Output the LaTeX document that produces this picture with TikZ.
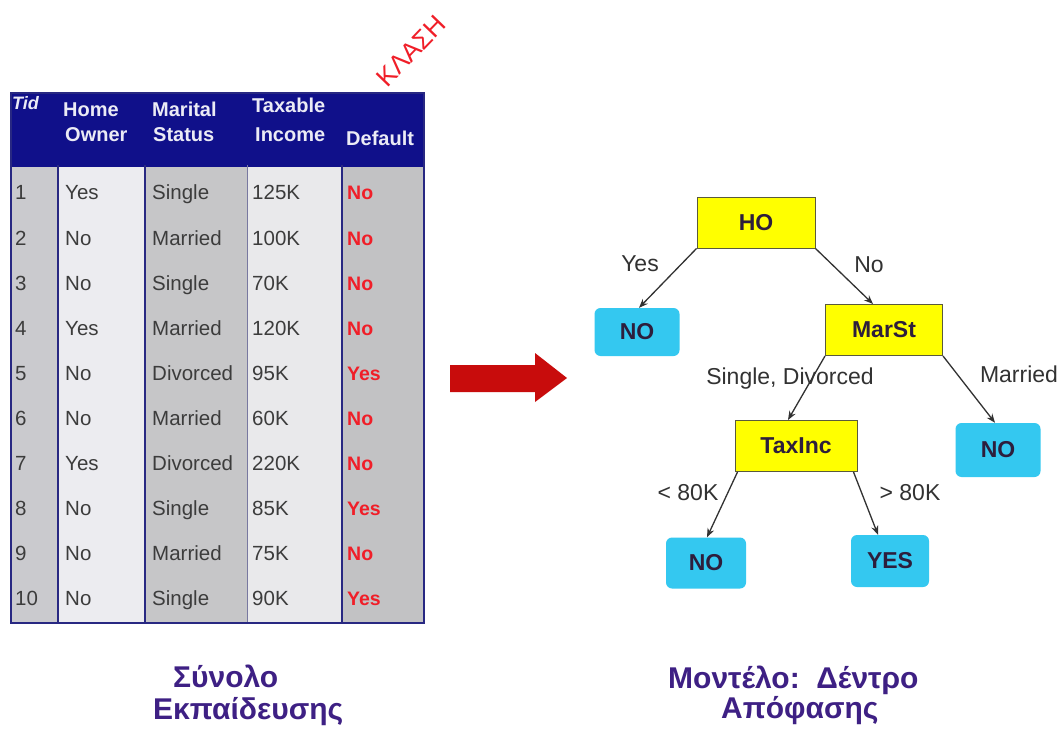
\documentclass[tikz,border=0pt]{standalone}
\usepackage{fontspec}
\setmainfont{Liberation Sans}
\usetikzlibrary{arrows.meta}
\definecolor{hdrblue}{RGB}{16,16,138}
\definecolor{colTid}{RGB}{202,202,206}
\definecolor{colHome}{RGB}{236,236,240}
\definecolor{colMar}{RGB}{198,198,200}
\definecolor{colTax}{RGB}{233,233,235}
\definecolor{colDef}{RGB}{194,194,196}
\definecolor{cellgray}{RGB}{60,60,60}
\definecolor{clsred}{RGB}{240,30,40}
\definecolor{navyline}{RGB}{40,40,130}
\definecolor{thinline}{RGB}{120,120,160}
\definecolor{hdrtext}{RGB}{235,235,245}
\definecolor{decyellow}{RGB}{255,255,0}
\definecolor{decline}{RGB}{90,90,60}
\definecolor{leafcyan}{RGB}{52,200,240}
\definecolor{nodetext}{RGB}{45,30,60}
\definecolor{labgray}{RGB}{50,50,50}
\definecolor{capurple}{RGB}{62,32,132}
\definecolor{arrowred}{RGB}{200,12,12}
\begin{document}
\begin{tikzpicture}[x=1pt,y=-1pt,
  cell/.style={anchor=base west,font=\fontsize{20.5}{23}\selectfont,text=cellgray,inner sep=0pt},
  cls/.style={anchor=base west,font=\bfseries\fontsize{19.5}{22}\selectfont,text=clsred,inner sep=0pt},
  hdr/.style={anchor=base west,font=\bfseries\fontsize{20}{23}\selectfont,text=hdrtext,inner sep=0pt},
  dec/.style={draw=decline,line width=1pt,fill=decyellow,font=\bfseries\fontsize{23}{26}\selectfont,text=nodetext,inner sep=0pt},
  leaf/.style={fill=leafcyan,rounded corners=6pt,font=\bfseries\fontsize{23}{26}\selectfont,text=nodetext,inner sep=0pt},
  edge/.style={draw=labgray,line width=1.3pt,-{Stealth[length=9pt,width=7pt]}},
  elabel/.style={font=\fontsize{23}{26}\selectfont,text=labgray,inner sep=0pt},
  capt/.style={font=\bfseries\fontsize{30}{33}\selectfont,text=capurple,inner sep=0pt,anchor=base west}
]
\useasboundingbox (0,0) rectangle (1064,735);
\fill[white] (0,0) rectangle (1064,735);

% ---- table columns ----
\fill[colTid]  (11,165) rectangle (58,623);
\fill[colHome] (58,165) rectangle (145,623);
\fill[colMar]  (145,165) rectangle (247,623);
\fill[colTax]  (247,165) rectangle (342,623);
\fill[colDef]  (342,165) rectangle (424,623);
\fill[hdrblue] (10,93) rectangle (424,167);
\draw[navyline,line width=2pt] (58,165) -- (58,623);
\draw[navyline,line width=2pt] (145,165) -- (145,623);
\draw[thinline,line width=1pt] (247,165) -- (247,623);
\draw[navyline,line width=2pt] (342,165) -- (342,623);
\draw[navyline,line width=1.6pt] (11,93) rectangle (424,623);

% ---- header ----
\node[hdr,font=\bfseries\itshape\fontsize{18}{21}\selectfont] (hTid) at (12,110) {Tid};
\node[hdr] (hHome) at (63,117) {Home};
\node[hdr] (hOwner) at (65,142) {Owner};
\node[hdr] (hMar) at (152,117) {Marital};
\node[hdr] (hStat) at (153,142) {Status};
\node[hdr] (hTax) at (252,113) {Taxable};
\node[hdr] (hInc) at (255,142) {Income};
\node[hdr] (hDef) at (346,146) {Default};

% ---- class label ----
\node[text=clsred,font=\fontsize{26}{28}\selectfont,rotate=46,inner sep=0pt] (klasi) at (411,51) {ΚΛΑΣΗ};

% ---- rows ----
\foreach \i/\h/\m/\t/\d in {1/Yes/Single/125K/No, 2/No/Married/100K/No, 3/No/Single/70K/No,
  4/Yes/Married/120K/No, 5/No/Divorced/95K/Yes, 6/No/Married/60K/No, 7/Yes/Divorced/220K/No,
  8/No/Single/85K/Yes, 9/No/Married/75K/No, 10/No/Single/90K/Yes} {
  \pgfmathsetmacro\yy{200+45.1*(\i-1)}
  \node[cell] (tid\i) at (15,\yy) {\i};
  \node[cell] (ho\i) at (65,\yy) {\h};
  \node[cell] (ms\i) at (152,\yy) {\m};
  \node[cell] (ti\i) at (252,\yy) {\t};
  \node[cls] (df\i) at (347,\yy) {\d};
}

% ---- big arrow ----
\fill[arrowred] (450,365) -- (535,365) -- (535,353) -- (567,378) -- (535,402) -- (535,392) -- (450,392) -- cycle;

% ---- tree ----
\node[dec,minimum width=118pt,minimum height=50pt] (HO) at (756,223) {HO};
\node[leaf,minimum width=85pt,minimum height=48pt] (NO1) at (637,332) {NO};
\node[dec,minimum width=117pt,minimum height=51pt] (MarSt) at (884,330) {MarSt};
\node[dec,minimum width=122pt,minimum height=51pt] (TaxInc) at (796,446) {TaxInc};
\node[leaf,minimum width=85pt,minimum height=54pt] (NO2) at (998,450) {NO};
\node[leaf,minimum width=80pt,minimum height=51pt] (NO3) at (706,563) {NO};
\node[leaf,minimum width=78pt,minimum height=52pt] (YES) at (890,561) {YES};

\draw[edge] (HO.south west) -- ([xshift=2pt]NO1.north);
\draw[edge] (HO.south east) -- ([xshift=-11pt]MarSt.north);
\draw[edge] (MarSt.south west) -- ([xshift=-8pt]TaxInc.north);
\draw[edge] (MarSt.south east) -- ([xshift=-3pt]NO2.north);
\draw[edge] ([xshift=3pt]TaxInc.south west) -- ([xshift=1pt]NO3.north);
\draw[edge] ([xshift=-4pt]TaxInc.south east) -- ([xshift=-12pt]YES.north);

\node[elabel] (lYes) at (640,264) {Yes};
\node[elabel] (lNo) at (869,265) {No};
\node[elabel] (lSD) at (790,379) {Single, Divorced};
\node[elabel] (lMar) at (1019,374) {Married};
\node[elabel] (lLt) at (688,493) {< 80K};
\node[elabel] (lGt) at (910,493) {> 80K};

% ---- captions ----
\node[capt] (c1) at (173,687) {Σύνολο};
\node[capt] (c2) at (153,719) {Εκπαίδευσης};
\node[capt] (c3) at (668,688) {Μοντέλο:\ \ Δέντρο};
\node[capt] (c4) at (721,718) {Απόφασης};
\end{tikzpicture}
\end{document}
